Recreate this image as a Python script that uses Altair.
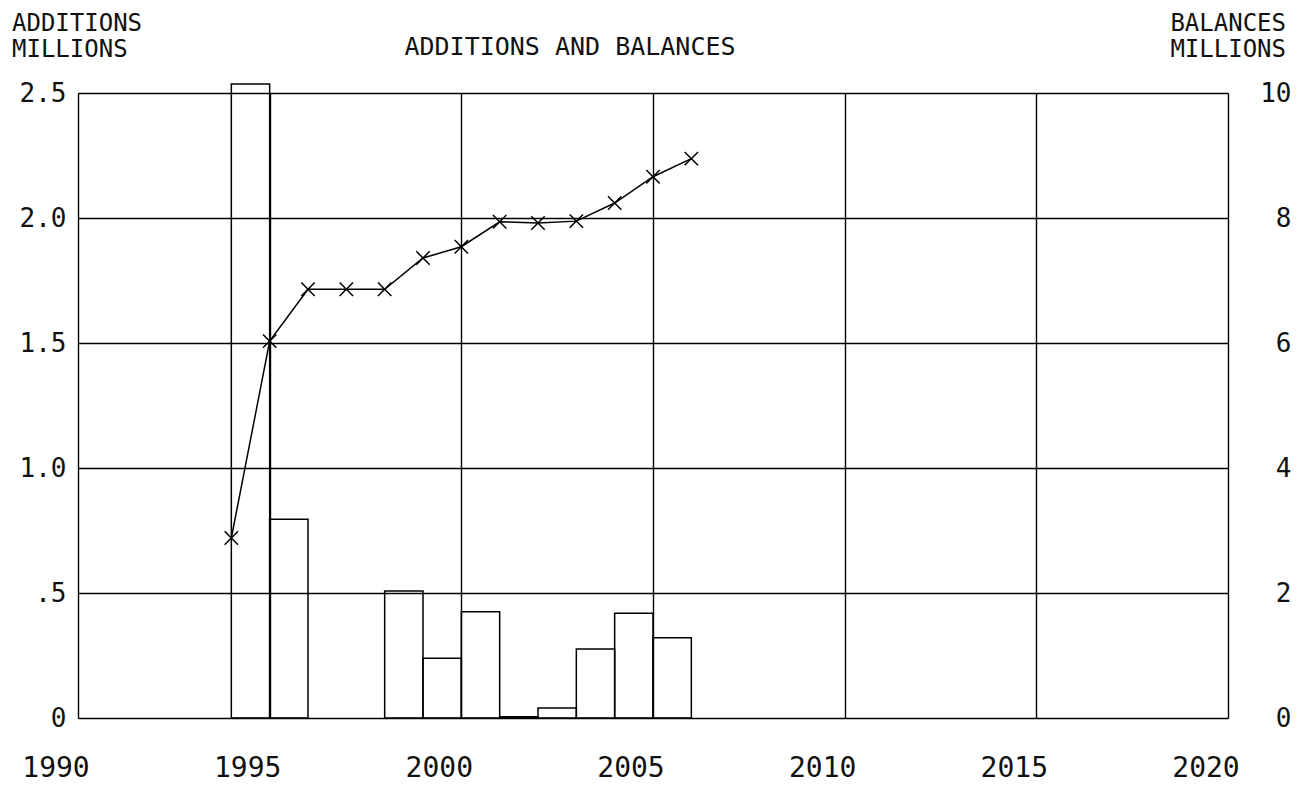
import altair as alt
import pandas as pd

# ---- data ----
bar_start_years = [1994, 1995, 1998, 1999, 2000, 2001, 2002, 2003, 2004, 2005]
additions = [2.536, 0.795, 0.508, 0.239, 0.425, 0.005, 0.04, 0.276, 0.419, 0.321]

balance_years = [1994, 1995, 1996, 1997, 1998, 1999, 2000, 2001, 2002, 2003, 2004, 2005, 2006]
balances = [2.88, 6.03, 6.86, 6.86, 6.86, 7.36, 7.54, 7.94, 7.92, 7.95, 8.24, 8.66, 8.95]

x_ticks = [1990, 1995, 2000, 2005, 2010, 2015, 2020]
left_ticks = [0, 0.5, 1.0, 1.5, 2.0, 2.5]
right_ticks = [0, 2, 4, 6, 8, 10]

FONT = "DejaVu Sans Mono"
FS = 26
INK = "#111111"

bars_df = pd.DataFrame({
    "start": bar_start_years,
    "end": [y + 1 for y in bar_start_years],
    "additions": additions,
})
line_df = pd.DataFrame({"year": balance_years, "balance": balances})
xtick_df = pd.DataFrame({"year": x_ticks})

x_scale = alt.Scale(domain=[1990, 2020], nice=False, zero=False)
x_axis = alt.Axis(
    values=x_ticks, title=None, grid=True, gridColor="black",
    gridWidth=1.4, gridOpacity=1, ticks=False, domain=False, labels=False,
)

bars = alt.Chart(bars_df).mark_rect(
    fill="transparent", stroke="black", strokeWidth=1.5
).encode(
    x=alt.X("start:Q", scale=x_scale, axis=x_axis),
    x2="end:Q",
    y=alt.Y(
        "additions:Q",
        scale=alt.Scale(domain=[0, 2.5], nice=False),
        axis=alt.Axis(
            orient="left", values=left_ticks, title=None, grid=True,
            gridColor="black", gridWidth=1.4, gridOpacity=1, ticks=False,
            domain=False, labelFont=FONT, labelFontSize=FS, labelColor=INK,
            labelPadding=12, labelBaseline="middle", labelFlush=False,
            labelOverlap=False, labelBound=False,
            labelExpr="datum.value == 0 ? '0' : (datum.value < 1 ? '.5' : format(datum.value, '.1f'))",
        ),
    ),
    y2=alt.datum(0),
)

# x tick labels (drawn as text at the scale positions, shifted left as in the reference)
x_labels = alt.Chart(xtick_df).mark_text(
    font=FONT, fontSize=28, color=INK, dx=-22, baseline="alphabetic", align="center"
).encode(
    x=alt.X("year:Q", scale=x_scale),
    y=alt.value(684),
    text=alt.Text("year:Q", format="d"),
)

right_y = alt.Y(
    "balance:Q",
    scale=alt.Scale(domain=[0, 10], nice=False),
    axis=alt.Axis(
        orient="right", values=right_ticks, title=None, grid=False,
        ticks=False, domain=False, labelFont=FONT, labelFontSize=FS,
        labelColor=INK, labelAlign="right", labelPadding=63,
        labelBaseline="middle", labelFlush=False, labelOverlap=False,
        labelBound=False,
    ),
)

line = alt.Chart(line_df).mark_line(color="black", strokeWidth=1.5).encode(
    x=alt.X("year:Q", scale=x_scale),
    y=right_y,
)
points = alt.Chart(line_df).mark_point(
    shape="M-1,-1L1,1M-1,1L1,-1", filled=False, stroke="black",
    strokeWidth=1.5, size=180, opacity=1,
).encode(
    x=alt.X("year:Q", scale=x_scale),
    y=right_y,
)

text_base = dict(font=FONT, fontSize=24, color=INK, baseline="alphabetic",
                 lineBreak="\n", lineHeight=26)
left_title = alt.Chart().mark_text(align="left", **text_base).encode(
    x=alt.value(-66), y=alt.value(-62.5), text=alt.value("ADDITIONS\nMILLIONS"))
right_title = alt.Chart().mark_text(align="right", **text_base).encode(
    x=alt.value(1208), y=alt.value(-62.5), text=alt.value("BALANCES\nMILLIONS"))
main_title = alt.Chart().mark_text(
    align="center", font=FONT, fontSize=25, color=INK, baseline="alphabetic"
).encode(
    x=alt.value(492), y=alt.value(-38), text=alt.value("ADDITIONS AND BALANCES"))

right_layer = alt.layer(line, points)

chart = alt.layer(
    bars, x_labels, right_layer, left_title, right_title, main_title
).resolve_scale(
    y="independent"
).properties(
    width=1150, height=625,
    autosize=alt.AutoSizeParams(type="none"),
    padding={"left": 70, "top": 85, "right": 70, "bottom": 74},
).configure_view(
    stroke="black", strokeWidth=1.5
).configure(background="white")

chart.save("out.html", embed_options={"renderer": "svg", "actions": False})
